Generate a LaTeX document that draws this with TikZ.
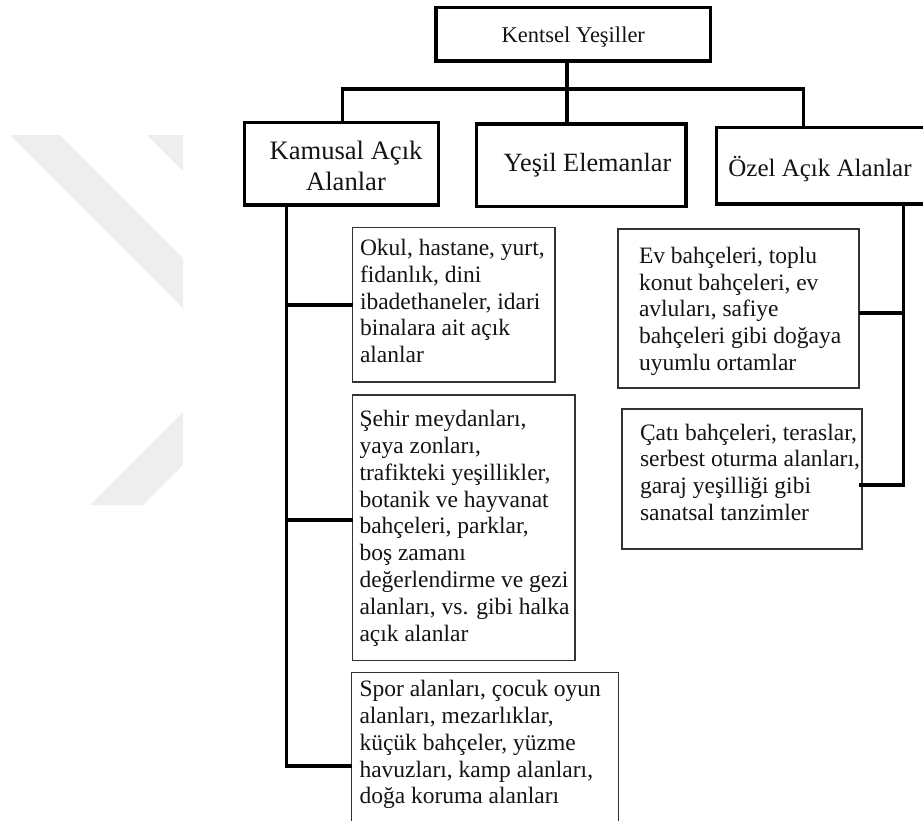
\documentclass[tikz,border=0pt]{standalone}
\usepackage{fontspec}
\setmainfont{Liberation Serif}
\tikzset{
  bigbox/.style={draw=black, line width=3.3pt, rectangle, inner sep=0pt, outer sep=0pt, anchor=north west},
  smallbox/.style={draw=black!80, line width=1.4pt, rectangle, inner sep=0pt, outer sep=0pt, anchor=north west},
  conn/.style={draw=black, line width=3.3pt},
  boxtext/.style={inner sep=0pt, outer sep=0pt, anchor=base west, text=black!92, font=\fontsize{23.5pt}{26.8pt}\selectfont},
  headtext/.style={inner sep=0pt, outer sep=0pt, anchor=base, text=black!92},
  wm/.style={fill=gray!13, draw=none}
}
\begin{document}
\begin{tikzpicture}[x=1pt, y=-1pt]
\clip (0,0) rectangle (923,820);
\fill[white] (0,0) rectangle (923,820);
% watermark
\fill[wm] (10,135) -- (60,135) -- (183,258) -- (183,308) -- cycle;
\fill[wm] (147,135) -- (183,135) -- (183,171) -- cycle;
\fill[wm] (90,505) -- (143,505) -- (183,465) -- (183,412) -- cycle;

% top level boxes
\node[bigbox, minimum width=274.7pt, minimum height=53.7pt] (top) at (436,7.3) {};
\node[headtext, font=\fontsize{22.5pt}{27pt}\selectfont] (topt) at (573.3,42.7) {Kentsel Yeşiller};

\node[bigbox, minimum width=194.5pt, minimum height=82.3pt] (kam) at (244.3,122.7) {};
\node[headtext, font=\fontsize{26.6pt}{31pt}\selectfont] (kamt) at (346,159) {\parbox[t]{200pt}{\centering Kamusal Açık\\Alanlar}};

\node[bigbox, minimum width=209.3pt, minimum height=82.7pt] (yesil) at (476.7,124) {};
\node[headtext, font=\fontsize{26.3pt}{31pt}\selectfont] (yesilt) at (587.5,171.7) {Yeşil Elemanlar};

\node[bigbox, minimum width=240pt, minimum height=76.3pt] (ozel) at (716.7,127.7) {};
\node[headtext, font=\fontsize{25pt}{30pt}\selectfont] (ozelt) at (820,176) {Özel Açık Alanlar};

% detail boxes, left
\node[smallbox, minimum width=202.3pt, minimum height=154.7pt] (okul) at (352.7,227.3) {};
\node[boxtext] (okult) at (360,255.5) {\parbox[t]{260pt}{\raggedright Okul, hastane, yurt,\\fidanlık, dini\\ibadethaneler, idari\\binalara ait açık\\alanlar}};

\node[smallbox, minimum width=222.3pt, minimum height=265.7pt] (sehir) at (352.7,395) {};
\node[boxtext] (sehirt) at (359.5,426.7) {\parbox[t]{260pt}{\raggedright Şehir meydanları,\\yaya zonları,\\trafikteki yeşillikler,\\botanik ve hayvanat\\bahçeleri, parklar,\\boş zamanı\\değerlendirme ve gezi\\alanları, vs. gibi halka\\açık alanlar}};

\node[smallbox, minimum width=266.6pt, minimum height=160pt] (spor) at (351.7,672.3) {};
\node[boxtext] (sport) at (359.5,696.7) {\parbox[t]{280pt}{\raggedright Spor alanları, çocuk oyun\\alanları, mezarlıklar,\\küçük bahçeler, yüzme\\havuzları, kamp alanları,\\doğa koruma alanları}};

% detail boxes, right
\node[smallbox, minimum width=241pt, minimum height=159pt] (ev) at (618,229) {};
\node[boxtext] (evt) at (639,263.3) {\parbox[t]{260pt}{\raggedright Ev bahçeleri, toplu\\konut bahçeleri, ev\\avluları, safiye\\bahçeleri gibi doğaya\\uyumlu ortamlar}};

\node[smallbox, minimum width=240pt, minimum height=140pt] (cati) at (622,409) {};
\node[boxtext] (catit) at (640,440) {\parbox[t]{260pt}{\raggedright Çatı bahçeleri, teraslar,\\serbest oturma alanları,\\garaj yeşilliği gibi\\sanatsal tanzimler}};

% junction coordinates
\coordinate (jl) at (342.7,89);
\coordinate (jc) at (567,89);
\coordinate (jr) at (803.3,89);
\coordinate (kv) at (286.7,0);
\coordinate (okj) at (352.7,305);
\coordinate (sehj) at (352.7,520);
\coordinate (sporj) at (351.7,766);
\coordinate (ov) at (903.3,0);
\coordinate (evj) at (859,313);
\coordinate (catij) at (859,485);

% connectors
\draw[conn] (top.south -| jc) -- (jc);
\draw[conn] (kam.north -| jl) -- (jl) -- (jr) -- (ozel.north -| jr);
\draw[conn] (jc) -- (yesil.north -| jc);
\draw[conn] (kam.south -| kv) -- (kv |- sporj) -- (sporj);
\draw[conn] (kv |- okj) -- (okj);
\draw[conn] (kv |- sehj) -- (sehj);
\draw[conn] (ozel.south -| ov) -- (ov |- catij) -- (catij);
\draw[conn] (ov |- evj) -- (evj);
\end{tikzpicture}
\end{document}
